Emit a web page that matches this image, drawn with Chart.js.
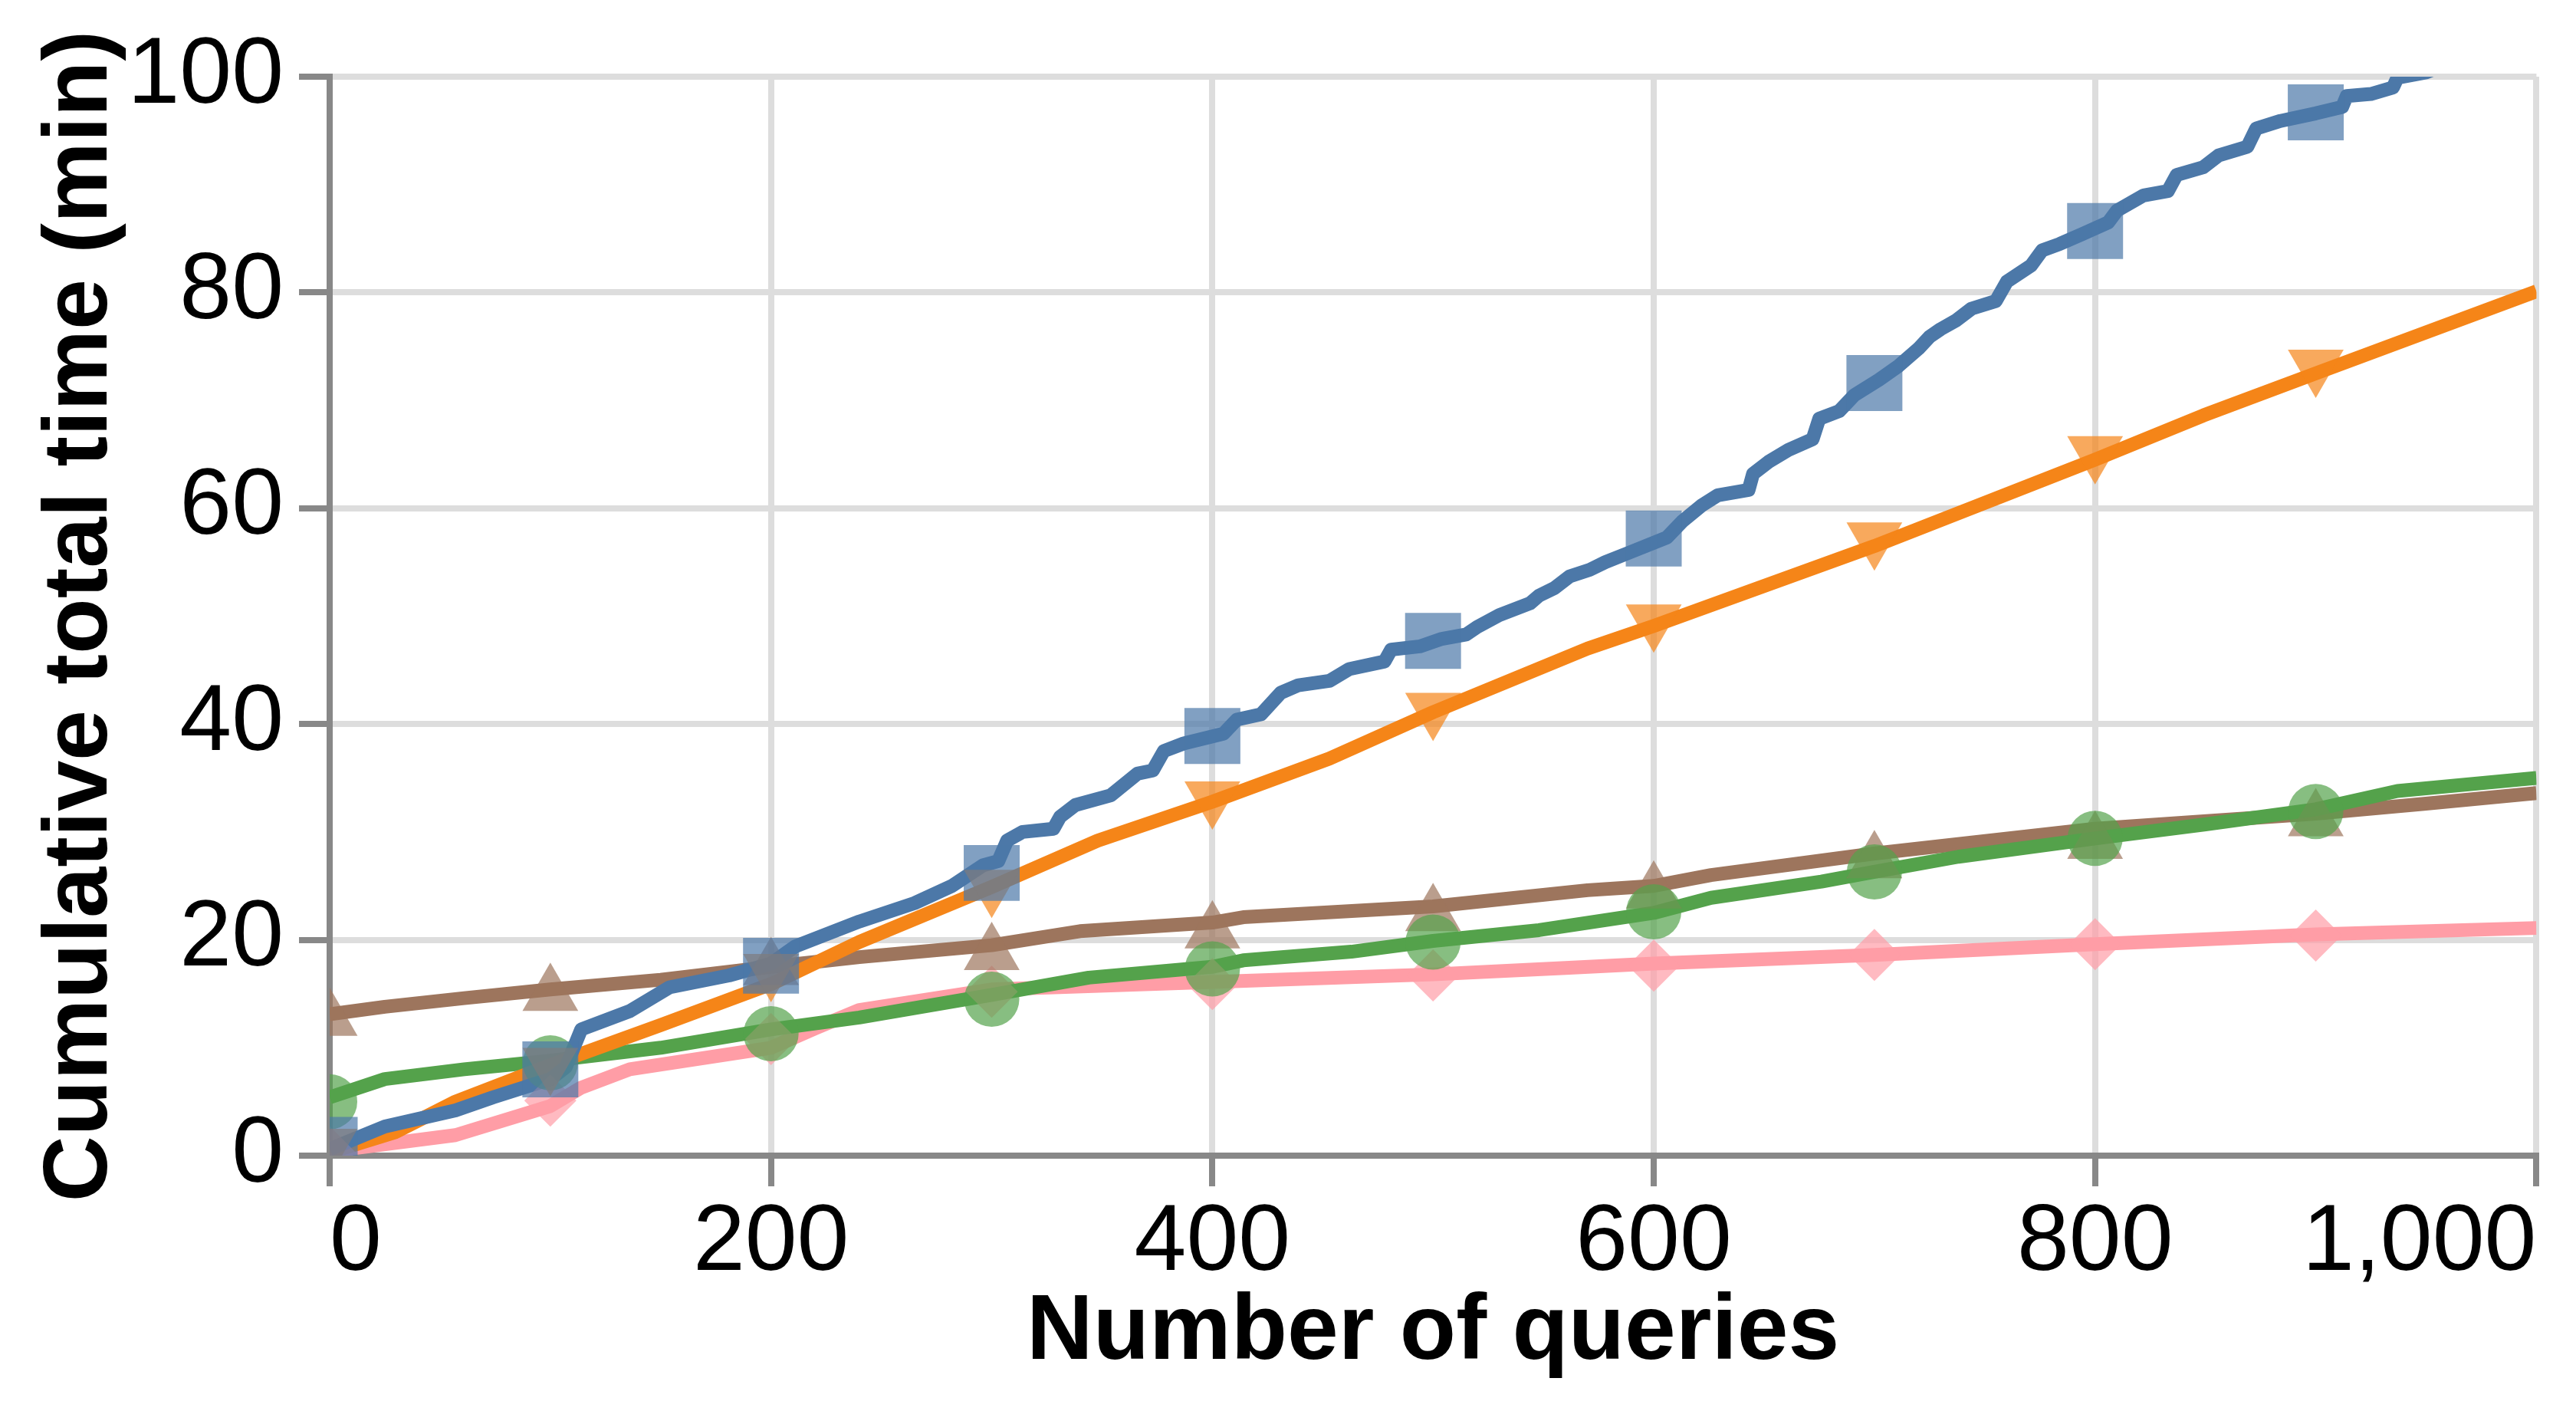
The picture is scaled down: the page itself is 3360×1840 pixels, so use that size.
<!DOCTYPE html>
<html>
<head>
<meta charset="utf-8">
<script src="https://cdn.jsdelivr.net/npm/chart.js@4.4.1/dist/chart.umd.min.js"></script>
<style>
  html, body { margin: 0; padding: 0; background: #fff; }
  #wrap { width: 3360px; height: 1840px; }
</style>
</head>
<body>
<div id="wrap"><canvas id="chart" width="3360" height="1840"></canvas></div>
<script>
// cumulative total time (min) against number of queries, five methods
const markerQueries = [0, 100, 200, 300, 400, 500, 600, 700, 800, 900];

const blueLineX = [0, 25, 57, 74, 100, 107, 114, 136, 154, 181, 200, 211, 240, 265, 282, 296, 303, 307, 314, 328, 331, 338, 354, 366, 373, 378, 387, 405, 411, 422, 431, 439, 453, 462, 478, 481, 494, 504, 515, 520, 530, 544, 548, 555, 562, 571, 578, 589, 606, 613, 622, 629, 643, 645, 652, 661, 672, 675, 684, 691, 702, 711, 720, 725, 730, 737, 744, 755, 760, 771, 776, 784, 794, 806, 810, 822, 833, 837, 849, 856, 869, 873, 884, 900, 912, 914, 925, 935, 937, 950, 956];
const blueLineY = [0.6, 2.7, 4.2, 5.4, 7.1, 8.2, 11.7, 13.4, 15.6, 16.7, 17.8, 19.4, 21.7, 23.4, 25.0, 26.9, 27.3, 29.2, 30.0, 30.3, 31.4, 32.5, 33.4, 35.4, 35.7, 37.5, 38.2, 39.1, 40.4, 40.9, 42.9, 43.6, 44.0, 45.1, 45.8, 46.9, 47.2, 47.9, 48.3, 49.0, 50.1, 51.2, 51.9, 52.6, 53.7, 54.3, 55.0, 55.9, 57.3, 58.8, 60.3, 61.2, 61.7, 63.2, 64.3, 65.4, 66.4, 68.3, 69.0, 70.5, 71.9, 73.2, 74.8, 75.9, 76.6, 77.4, 78.5, 79.2, 81.0, 82.5, 83.9, 84.5, 85.4, 86.5, 87.6, 89.0, 89.4, 90.9, 91.6, 92.7, 93.5, 95.2, 95.9, 96.6, 97.2, 98.2, 98.4, 99.0, 99.9, 100.4, 100.9];

const orangeLineX = [0, 30, 57, 100, 150, 200, 240, 300, 348, 400, 453, 500, 570, 600, 700, 800, 849, 900, 1000];
const orangeLineY = [0.3, 2.2, 5.0, 8.4, 12.1, 15.9, 19.8, 24.9, 29.2, 32.8, 36.8, 41.1, 47.0, 49.1, 56.5, 64.5, 68.6, 72.5, 80.1];

const greenLineX = [0, 25, 61, 100, 150, 200, 240, 300, 344, 400, 414, 463, 500, 548, 600, 626, 676, 700, 738, 800, 850, 900, 937, 1000];
const greenLineY = [5.4, 7.1, 8.0, 8.8, 10.0, 11.7, 12.8, 14.9, 16.5, 17.5, 18.1, 18.9, 19.9, 20.9, 22.5, 23.9, 25.4, 26.3, 27.7, 29.4, 30.7, 32.1, 33.8, 35.0];

const brownLineX = [0, 25, 61, 100, 150, 200, 240, 300, 340, 400, 414, 500, 570, 600, 626, 700, 800, 900, 949, 1000];
const brownLineY = [13.1, 13.8, 14.6, 15.4, 16.3, 17.5, 18.4, 19.5, 20.8, 21.6, 22.1, 23.1, 24.6, 25.0, 26.0, 28.0, 30.3, 31.7, 32.6, 33.6];

const pinkLineX = [0, 57, 100, 114, 136, 200, 220, 240, 300, 400, 500, 560, 600, 700, 800, 900, 1000];
const pinkLineY = [0.4, 1.9, 4.6, 6.3, 8.0, 10.0, 11.8, 13.5, 15.4, 16.1, 16.8, 17.4, 17.8, 18.6, 19.6, 20.5, 21.1];

const blueMarks = [1.0, 8.0, 17.6, 26.2, 38.9, 47.7, 57.2, 71.6, 85.7, 96.7];
const orangeMarks = [1.0, 8.5, 17.2, 25.0, 33.2, 41.4, 49.6, 57.2, 65.2, 73.2];
const greenMarks = [5.0, 8.6, 11.3, 14.5, 17.3, 19.8, 22.6, 26.3, 29.4, 31.9];
const brownMarks = [12.6, 14.9, 17.3, 18.7, 20.7, 22.3, 24.4, 27.2, 29.0, 31.1];
const pinkMarks = [0.3, 5.1, 10.8, 15.2, 15.9, 16.7, 17.6, 18.6, 19.6, 20.4];

const FONT = "'Liberation Sans', Arial, sans-serif";

function pts(xs, ys) {
  return xs.map((x, i) => ({ x: x, y: ys[i] }));
}

function lineSet(xs, ys, color, order) {
  return {
    data: pts(xs, ys),
    showLine: true,
    borderColor: color,
    borderWidth: 18,
    borderJoinStyle: "round",
    pointRadius: 0,
    tension: 0,
    clip: 0,
    order: order,
  };
}

function markSet(ys, color, style, radius, rotation, order) {
  return {
    data: pts(markerQueries, ys),
    showLine: false,
    backgroundColor: color,
    borderWidth: 0,
    pointStyle: style,
    pointRadius: radius,
    pointRotation: rotation,
    clip: 0,
    order: order,
  };
}

const config = {
  type: "scatter",
  data: {
    datasets: [
      markSet(blueMarks, "rgba(76, 120, 168, 0.7)", "rect", 51.6, 0, 1),
      markSet(orangeMarks, "rgba(245, 133, 24, 0.7)", "triangle", 42, 180, 2),
      markSet(greenMarks, "rgba(84, 162, 75, 0.7)", "circle", 36, 0, 3),
      markSet(brownMarks, "rgba(157, 117, 93, 0.7)", "triangle", 42, 0, 4),
      markSet(pinkMarks, "rgba(255, 157, 166, 0.7)", "rectRot", 34, 0, 5),
      lineSet(blueLineX, blueLineY, "#4c78a8", 10),
      lineSet(orangeLineX, orangeLineY, "#f58518", 11),
      lineSet(greenLineX, greenLineY, "#54a24b", 12),
      lineSet(brownLineX, brownLineY, "#9d755d", 13),
      lineSet(pinkLineX, pinkLineY, "#ff9da6", 14),
    ],
  },
  options: {
    responsive: false,
    devicePixelRatio: 1,
    animation: false,
    layout: { padding: { top: 100, right: 42, left: 0, bottom: 0 } },
    plugins: { legend: { display: false }, tooltip: { enabled: false } },
    scales: {
      x: {
        type: "linear",
        min: 0,
        max: 1000,
        afterFit: (axis) => { axis.height = 333; },
        ticks: {
          stepSize: 200,
          align: "inner",
          padding: 2,
          color: "#000",
          font: { family: FONT, size: 122 },
        },
        grid: { color: "#dddddd", lineWidth: 8, tickColor: "#888888", tickWidth: 8, tickLength: 40 },
        border: { color: "#888888", width: 8 },
        title: {
          display: true,
          text: "Number of queries",
          color: "#000",
          font: { family: FONT, size: 120, weight: "bold" },
          padding: { top: 0, bottom: 29 },
        },
      },
      y: {
        min: 0,
        max: 100,
        afterFit: (axis) => { axis.width = 430; },
        ticks: {
          stepSize: 20,
          padding: 20,
          color: "#000",
          font: { family: FONT, size: 122 },
        },
        grid: { color: "#dddddd", lineWidth: 8, tickColor: "#888888", tickWidth: 8, tickLength: 40 },
        border: { color: "#888888", width: 8 },
        title: {
          display: true,
          text: "Cumulative total time (min)",
          color: "#000",
          font: { family: FONT, size: 119, weight: "bold" },
          padding: { top: 35, bottom: 0 },
        },
      },
    },
  },
};

new Chart(document.getElementById("chart"), config);
</script>
</body>
</html>
